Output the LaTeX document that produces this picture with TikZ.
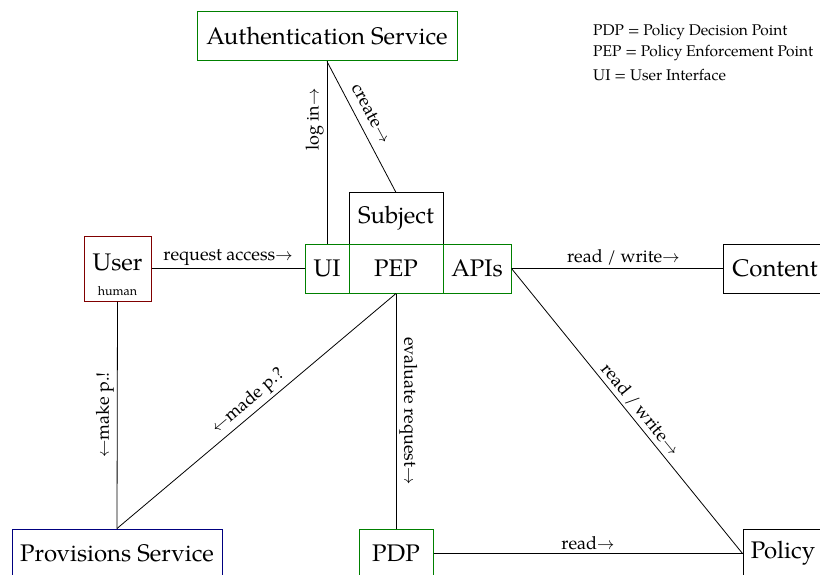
\documentclass[tikz,border=0pt]{standalone}
\usepackage{fontspec}
\setmainfont{TeX Gyre Pagella}
\definecolor{grn}{RGB}{0,128,0}
\definecolor{dred}{RGB}{128,0,0}
\definecolor{navyb}{RGB}{0,0,128}
\begin{document}
\begin{tikzpicture}[x=1pt,y=-1pt,
  box/.style={draw, line width=1pt, inner sep=0pt, font=\fontsize{24}{28}\selectfont},
  conn/.style={line width=0.8pt},
  lbl/.style={font=\fontsize{18}{21}\selectfont, inner sep=3pt},
  legend/.style={anchor=west, inner sep=0pt, font=\fontsize{15.5}{18}\selectfont}]
\useasboundingbox (0,0) rectangle (820,575);
\clip (0,0) rectangle (820,575);
% boxes
\node[box, draw=grn, minimum width=260pt, minimum height=49pt] (auth) at (327,36.5) {Authentication Service};
\node[box, minimum width=94pt, minimum height=51pt] (subject) at (396,218.5) {Subject};
\node[box, draw=grn, minimum width=44pt, minimum height=49pt] (ui) at (327,268.5) {UI};
\node[box, draw=grn, minimum width=94pt, minimum height=49pt] (pep) at (396,268.5) {PEP};
\node[box, draw=grn, minimum width=68pt, minimum height=49pt] (apis) at (477,268.5) {APIs};
\node[box, draw=dred, minimum width=67pt, minimum height=65pt,
  label={[inner sep=0pt, align=center, yshift=-6pt, font=\fontsize{24}{28}\selectfont]center:User\\[-3pt]{\fontsize{12.5}{14}\selectfont human}}] (user) at (117.5,268.5) {};
\node[box, minimum width=104pt, minimum height=49pt] (content) at (775,268.5) {Content};
\node[box, draw=navyb, minimum width=210pt, minimum height=49pt] (prov) at (117,553.5) {Provisions Service};
\node[box, draw=grn, minimum width=74pt, minimum height=49pt] (pdp) at (396,553.5) {PDP};
\node[box, minimum width=80pt, minimum height=49pt] (policy) at (783,553.5) {Policy};
% connectors
\draw[conn] (auth.south) -- node[lbl, pos=0.32, rotate=90, anchor=south] {log in$\rightarrow$} (ui.north);
\draw[conn] (auth.south) -- node[lbl, pos=0.45, sloped, above, yshift=6pt] {create$\rightarrow$} (subject.north);
\draw[conn] (user.east) -- node[lbl, above] {request access$\rightarrow$} (ui.west);
\draw[conn] (apis.east) -- node[lbl, above, pos=0.53] {read / write$\rightarrow$} (content.west);
\draw[conn] (apis.east) -- node[lbl, sloped, above, pos=0.52] {read / write$\rightarrow$} (policy.west);
\draw[conn] (pep.south) -- node[lbl, rotate=-90, anchor=south] {evaluate request$\rightarrow$} (pdp.north);
\draw[conn] (pep.south) -- node[lbl, sloped, above] {$\leftarrow$made p.?} (prov.north);
\draw[conn] (user.south) -- node[lbl, rotate=90, anchor=south] {$\leftarrow$make p.!} (prov.north);
\draw[conn] (pdp.east) -- node[lbl, above] {read$\rightarrow$} (policy.west);
% legend
\node[legend] (l1) at (593,32) {PDP = Policy Decision Point};
\node[legend] (l2) at (593,53.5) {PEP = Policy Enforcement Point};
\node[legend] (l3) at (593,75) {UI = User Interface};
\end{tikzpicture}
\end{document}
